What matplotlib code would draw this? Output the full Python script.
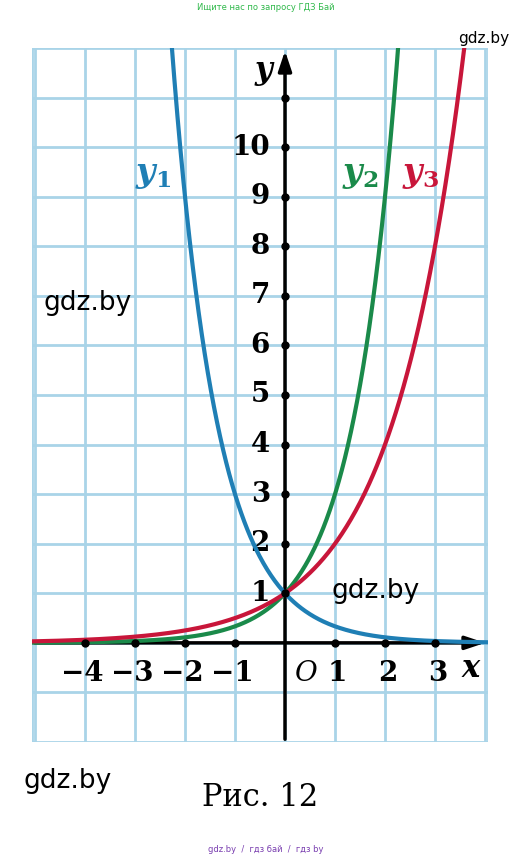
import numpy as np
import matplotlib
matplotlib.use("Agg")
import matplotlib.pyplot as plt
plt.rcParams["mathtext.fontset"] = "dejavuserif"

bases = [1/3, 3, 2]
names = ["y", "y", "y"]
subs = ["1", "2", "3"]
colors = ["#1f7fb5", "#1a8a4a", "#c8163a"]
xticks = [-4, -3, -2, -1, 1, 2, 3]
yticks = [1, 2, 3, 4, 5, 6, 7, 8, 9, 10]

W, H = 532, 857
fig = plt.figure(figsize=(W/100, H/100), dpi=100)
ax = fig.add_axes([32/W, (H-742)/H, 456/W, 694/H])
x0, x1, y0, y1 = -5.06, 4.06, -2, 12
ax.set_xlim(x0, x1); ax.set_ylim(y0, y1)
for s in ax.spines.values(): s.set_visible(False)
ax.set_xticks([]); ax.set_yticks([])
gc = "#a9d4e8"
for gx in list(range(-5, 5)) + [x0, x1]:
    if x0 <= gx <= x1: ax.axvline(gx, color=gc, lw=2, zorder=0)
for gy in range(-2, 13):
    ax.axhline(gy, color=gc, lw=2, zorder=0)

ax.annotate("", xy=(x1, 0), xytext=(x0, 0), arrowprops=dict(arrowstyle="-|>,head_length=1.2,head_width=0.4", color="black", lw=2.5))
ax.annotate("", xy=(0, y1), xytext=(0, y0), arrowprops=dict(arrowstyle="-|>,head_length=1.2,head_width=0.4", color="black", lw=2.5))

serif = "DejaVu Serif"
for t in xticks:
    ax.plot(t, 0, "o", color="black", ms=5, zorder=5)
    lbl = str(t).replace("-", "−")
    ax.text(t + (0.05 if t > 0 else -0.05), -0.35, lbl, ha="center", va="top", fontsize=20, family=serif, fontweight="bold")
for t in yticks:
    ax.plot(0, t, "o", color="black", ms=5, zorder=5)
    ax.text(-0.3, t, str(t), ha="right", va="center", fontsize=20, family=serif, fontweight="bold")
ax.plot(0, 11, "o", color="black", ms=5, zorder=5)
ax.text(0.2, -0.35, "O", ha="left", va="top", fontsize=20, family=serif, style="italic")
ax.text(3.9, -0.2, "x", ha="right", va="top", fontsize=22, family=serif, style="italic", fontweight="bold")
ax.text(-0.25, 11.85, "y", ha="right", va="top", fontsize=22, family=serif, style="italic", fontweight="bold")

xs = np.linspace(x0, x1, 600)
for b, c in zip(bases, colors):
    ys = b ** xs
    ax.plot(xs, np.where(ys < y1 + 1, ys, np.nan), color=c, lw=3, zorder=3)

labpos = [(-3.0, 9.3), (1.15, 9.3), (2.35, 9.3)]
for (lx, ly), n, s, c in zip(labpos, names, subs, colors):
    ax.text(lx, ly, f"$\\boldsymbol{{{n}}}_{{\\mathbf{{{s}}}}}$", color=c, fontsize=24)

fig.text(266/W, 1 - 7/H, "Ищите нас по запросу ГДЗ Бай", color="#2fb84a", fontsize=6, ha="center", va="center")
fig.text(484/W, 1 - 38/H, "gdz.by", fontsize=11, ha="center", va="center")
fig.text(88/W, 1 - 303/H, "gdz.by", fontsize=19, ha="center", va="center")
fig.text(376/W, 1 - 591/H, "gdz.by", fontsize=19, ha="center", va="center")
fig.text(68/W, 1 - 781/H, "gdz.by", fontsize=19, ha="center", va="center")
fig.text(260/W, 1 - 797/H, "Рис. 12", fontsize=22, ha="center", va="center", family=serif)
fig.text(266/W, 1 - 849/H, "gdz.by  /  гдз бай  /  гдз by", color="#7a3fb0", fontsize=6, ha="center", va="center")
fig.savefig("out.png", dpi=100)
